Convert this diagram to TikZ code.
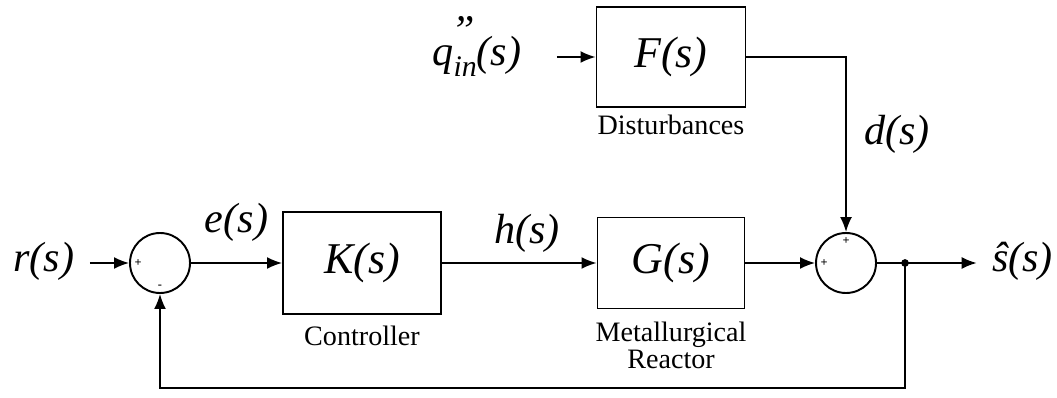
\documentclass[tikz,border=0pt]{standalone}
\usepackage{fontspec}
\setmainfont{Liberation Serif}
\usetikzlibrary{positioning,calc,arrows.meta}

\begin{document}
\begin{tikzpicture}[
    block/.style={
        rectangle,
        draw,
        line width=1.1pt,
        inner sep=0pt,
        font=\fontsize{25}{28}\selectfont\itshape
    },
    sum/.style={
        circle,
        draw,
        line width=1.1pt,
        minimum size=1.2cm,
        inner sep=0pt
    },
    signal/.style={
        font=\fontsize{24}{28}\selectfont\itshape,
        inner sep=0pt
    },
    caption/.style={
        font=\fontsize{16}{15}\selectfont,
        align=center,
        inner sep=0pt
    },
    sign/.style={
        font=\fontsize{7}{7}\selectfont\bfseries,
        inner sep=0pt
    },
    line/.style={
        draw,
        -{Latex[length=0.3cm,width=0.24cm]},
        line width=1pt
    }
]
    \useasboundingbox (0,0) rectangle (21.14,7.94);

    % Blocks
    \node [sum] (sum1) at (3.20,2.68) {};
    \node [block, minimum width=3.16cm, minimum height=2.04cm] (K) at (7.24,2.68) {K(s)};
    \node [block, minimum width=2.94cm, minimum height=1.82cm] (G) at (13.42,2.68) {G(s)};
    \node [block, minimum width=2.98cm, minimum height=2.00cm] (F) at (13.42,6.80) {F(s)};
    \node [sum] (sum2) at (16.92,2.68) {};

    % Signs on the summing points
    \node [sign, right=3pt of sum1.west] {+};
    \node [sign, above=3pt of sum1.south] {-};
    \node [sign, right=3pt of sum2.west] {+};
    \node [sign, below=3pt of sum2.north] {+};

    % Captions
    \node [caption, below=0.22cm of K] (capK) {Controller};
    \node [caption, below=0.25cm of G] (capG) {Metallurgical\\Reactor};
    \node [caption, below=0.14cm of F] (capF) {Disturbances};

    % Signals
    \node [signal, anchor=base] (r) at (0.88,2.50) {r(s)};
    \node [signal, anchor=base] (q) at (9.54,6.62)
        {q\rlap{\raisebox{0.5em}{\kern-0.05em''}}\raisebox{-0.25em}{\fontsize{17}{17}\selectfont in}(s)};
    \node [signal, anchor=base] (s) at (20.45,2.50) {ŝ(s)};
    \coordinate (tap) at (18.10,2.68);
    \coordinate (fb) at (18.10,0.18);

    % Connections
    \path [line] ([xshift=0.3cm]r.east |- sum1.west) -- (sum1);
    \path [line] (sum1) -- node[signal, above=0.42cm, pos=0.5] {e(s)} (K);
    \path [line] (K) -- node[signal, above=0.2cm, pos=0.55] {h(s)} (G);
    \path [line] (G) -- (sum2);
    \path [line] ([xshift=0.7cm]q.east |- F.west) -- (F);
    \path [line] (F) -| node[signal, right=0.35cm, pos=0.72] {d(s)} (sum2);
    \path [line] (sum2) -- ([xshift=-0.3cm]s.west |- sum2.east);
    \fill (tap) circle (2.2pt);
    \path [line] (tap) -- (fb) -| (sum1);

\end{tikzpicture}
\end{document}
